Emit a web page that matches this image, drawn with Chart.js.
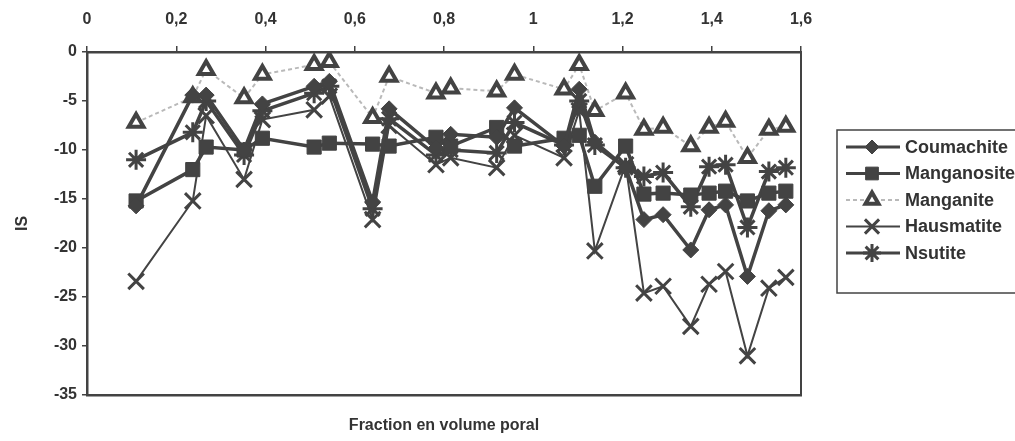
<!DOCTYPE html>
<html>
<head>
<meta charset="utf-8">
<script src="https://cdn.jsdelivr.net/npm/chart.js@4.4.0/dist/chart.umd.min.js"></script>
<style>
  html, body { margin: 0; padding: 0; background: #fff; }
  #wrap { width: 1015px; height: 441px; }
</style>
</head>
<body>
<div id="wrap"><canvas id="c" width="1015" height="441"></canvas></div>
<script>
// ---- data ----
const xValues = [0.11, 0.237, 0.267, 0.352, 0.393, 0.509, 0.543, 0.64, 0.677, 0.782, 0.815, 0.918, 0.958, 1.069, 1.103, 1.138, 1.207, 1.248, 1.291, 1.353, 1.394, 1.431, 1.48, 1.528, 1.566];
const coumachite  = [-15.7, -4.4, -4.4, -10.0, -5.3, -3.5, -3.0, -15.3, -5.8, -9.8, -8.4, -8.7, -5.7, -9.6, -3.8, -9.2, -11.8, -17.1, -16.6, -20.2, -16.1, -15.6, -22.9, -16.2, -15.6];
const manganosite = [-15.2, -12.0, -9.7, -10.0, -8.8, -9.7, -9.3, -9.4, -9.6, -8.7, -9.6, -7.7, -9.6, -8.8, -8.5, -13.7, -9.6, -14.5, -14.4, -14.6, -14.4, -14.2, -15.2, -14.4, -14.2];
const manganite   = [-7.2, -4.6, -1.8, -4.7, -2.3, -1.3, -1.0, -6.7, -2.5, -4.2, -3.7, -4.0, -2.3, -3.8, -1.3, -6.0, -4.2, -7.9, -7.7, -9.6, -7.7, -7.1, -10.8, -7.9, -7.6];
const hausmatite  = [-23.4, -15.2, -6.5, -13.0, -6.9, -5.9, -4.5, -17.1, -7.5, -11.5, -10.8, -11.8, -8.5, -10.8, -6.0, -20.3, -11.5, -24.6, -23.9, -28.0, -23.7, -22.4, -31.0, -24.1, -23.0];
const nsutite     = [-11.0, -8.2, -5.0, -10.5, -6.0, -4.2, -3.5, -16.0, -6.8, -10.5, -10.0, -10.3, -7.2, -9.5, -5.0, -9.5, -11.8, -12.7, -12.3, -15.8, -11.7, -11.5, -17.9, -12.2, -11.8];
const seriesNames = ['Coumachite', 'Manganosite', 'Manganite', 'Hausmatite', 'Nsutite'];
const xTitle = 'Fraction en volume poral';
const yTitle = 'IS';
const xMin = 0, xMax = 1.6, xStep = 0.2;
const yMin = -35, yMax = 0, yStep = 5;

const DARK = '#434343';
const FONT = "'Liberation Sans', Arial, sans-serif";

const toPts = ys => xValues.map((x, i) => ({ x: x, y: ys[i] }));

const datasets = [
  { label: seriesNames[0], data: toPts(coumachite), borderColor: DARK, backgroundColor: DARK,
    borderWidth: 3.5, pointStyle: 'rectRot', pointRadius: 8, pointBorderWidth: 1, legendRadius: 7 },
  { label: seriesNames[1], data: toPts(manganosite), borderColor: DARK, backgroundColor: DARK,
    borderWidth: 3.5, pointStyle: 'rect', pointRadius: 10, pointBorderWidth: 1, legendRadius: 9 },
  { label: seriesNames[2], data: toPts(manganite), borderColor: '#b9b9b9', backgroundColor: '#ffffff',
    borderWidth: 2, borderDash: [4, 3], pointStyle: 'triangle', pointRadius: 8.5,
    pointBorderColor: DARK, pointBorderWidth: 4, legendRadius: 7.5 },
  { label: seriesNames[3], data: toPts(hausmatite), borderColor: DARK, backgroundColor: DARK,
    borderWidth: 2, pointStyle: 'crossRot', pointRadius: 11, pointBorderWidth: 3, legendRadius: 10 },
  { label: seriesNames[4], data: toPts(nsutite), borderColor: DARK, backgroundColor: DARK,
    borderWidth: 3.5, pointStyle: 'star', pointRadius: 10, pointBorderWidth: 3, legendRadius: 9 }
];
datasets.forEach(d => { d.showLine = true; d.tension = 0; d.fill = false;
  if (!d.pointBorderColor) d.pointBorderColor = DARK; d.pointBackgroundColor = d.backgroundColor; });

// custom legend drawn from the datasets
const legendPlugin = {
  id: 'boxLegend',
  afterDraw(chart) {
    const ctx = chart.ctx;
    const ca = chart.chartArea;
    const left = ca.right + 36, top = ca.top + 78, w = 200, h = 163;
    ctx.save();
    ctx.strokeStyle = DARK; ctx.lineWidth = 1.5;
    ctx.strokeRect(left, top, w, h);
    ctx.font = "bold 18px " + FONT;
    ctx.textBaseline = 'middle';
    chart.data.datasets.forEach((ds, i) => {
      const y = top + 17 + i * 26.5;
      const x0 = left + 9, x1 = left + 63, xm = left + 35;
      ctx.save();
      ctx.strokeStyle = ds.borderColor; ctx.lineWidth = Math.min(ds.borderWidth, 3);
      ctx.setLineDash(ds.borderDash || []);
      ctx.beginPath(); ctx.moveTo(x0, y); ctx.lineTo(x1, y); ctx.stroke();
      ctx.setLineDash([]);
      ctx.fillStyle = ds.pointBackgroundColor; ctx.strokeStyle = ds.pointBorderColor;
      ctx.lineWidth = ds.pointBorderWidth;
      if (Chart.helpers && Chart.helpers.drawPoint) {
        Chart.helpers.drawPoint(ctx, { pointStyle: ds.pointStyle, rotation: 0,
          radius: ds.legendRadius, borderWidth: ds.pointBorderWidth }, xm, y);
      }
      ctx.restore();
      ctx.fillStyle = '#333';
      ctx.fillText(ds.label, left + 68, y + 1);
    });
    ctx.restore();
  }
};

new Chart(document.getElementById('c'), {
  type: 'scatter',
  data: { datasets },
  options: {
    responsive: false,
    animation: false,
    layout: { padding: { left: 0, right: 214, top: 0, bottom: 0 } },
    plugins: { legend: { display: false }, tooltip: { enabled: false } },
    scales: {
      x: {
        type: 'linear', position: 'top', min: xMin, max: xMax,
        ticks: { stepSize: xStep, color: '#333', padding: 17,
          font: { family: FONT, size: 16, weight: 'bold' },
          callback: v => String(+(+v).toFixed(1)).replace('.', ',') },
        grid: { display: true, drawOnChartArea: false, drawTicks: true, tickLength: 6, color: DARK, lineWidth: 1.5 },
        border: { display: true, color: DARK, width: 2.5 },
        afterFit: s => { s.height = 52; }
      },
      x2: {
        type: 'linear', position: 'bottom', min: xMin, max: xMax,
        ticks: { display: false },
        grid: { display: false },
        border: { display: true, color: DARK, width: 2.5 },
        title: { display: true, text: xTitle, color: '#333',
          font: { family: FONT, size: 16, weight: 'bold' }, padding: { top: 0, bottom: 6 } },
        afterFit: s => { s.height = 46; }
      },
      y: {
        type: 'linear', position: 'left', min: yMin, max: yMax,
        ticks: { stepSize: yStep, color: '#333', padding: 5,
          font: { family: FONT, size: 16, weight: 'bold' }, callback: v => String(v) },
        grid: { display: true, drawOnChartArea: false, drawTicks: true, tickLength: 5, color: DARK, lineWidth: 1.5 },
        border: { display: true, color: DARK, width: 2.5 },
        title: { display: true, text: yTitle, color: '#333',
          font: { family: FONT, size: 16, weight: 'bold' }, padding: { top: 13, bottom: 0 } },
        afterFit: s => { s.width = 87; }
      },
      y2: {
        type: 'linear', position: 'right', min: yMin, max: yMax,
        ticks: { display: false },
        grid: { display: false },
        border: { display: true, color: DARK, width: 2 },
        afterFit: s => { s.width = 0; }
      }
    }
  },
  plugins: [legendPlugin]
});
</script>
</body>
</html>
